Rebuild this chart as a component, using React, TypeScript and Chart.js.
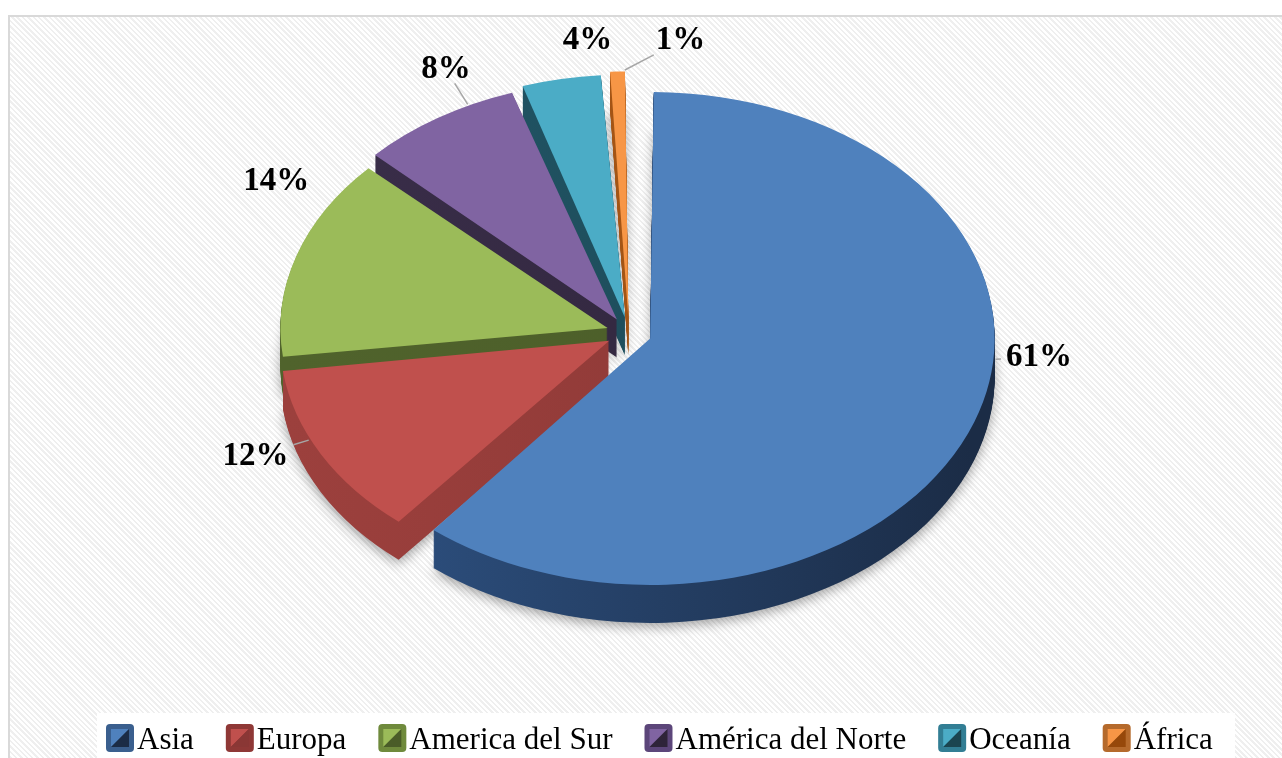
import React, { useEffect, useRef } from "react";
import { Chart, registerables } from "chart.js";

Chart.register(...registerables);

// ---- data ----
const regions = ["Asia", "Europa", "America del Sur", "América del Norte", "Oceanía", "África"];
const shares = [61, 12, 14, 8, 4, 1];

// ---- styles ----
const topColors = ["#4F81BD", "#C0504D", "#9BBB59", "#8064A2", "#4BACC6", "#F79646"];
const sideColorsLeft = ["#2e5283", "#9c403d", "#50632c", "#3a2e4a", "#22586a", "#b0601f"];
const sideColorsRight = ["#1b2c46", "#8a3735", "#4a5c28", "#2e2439", "#1b4550", "#96480a"];
const keyBorderColors = ["#3a5f8e", "#8f3836", "#6f8a3c", "#5c467a", "#327e94", "#b56a2c"];
const labelAngleShift = [-15, 4, 13, 6, 5, 9];
const leaderLines = [true, true, false, true, false, true];

const PIE_RADIUS = 322;
const EXPLODE = 90; // Chart.js moves a slice by offset/4
const TILT = 0.7155;
const DEPTH = 38;
const LABEL_GAP = 67;
const SERIF = '"Liberation Serif", "Times New Roman", serif';

const pie3d = {
  id: "pie3d",
  beforeDatasetsDraw(chart: any) {
    const ctx = chart.ctx as CanvasRenderingContext2D;
    const arcs = chart.getDatasetMeta(0).data;
    chart.$pie3dSaved = false;
    if (!arcs.length) return;
    const cx = arcs[0].x;
    const cy = arcs[0].y;
    ctx.save();
    chart.$pie3dSaved = true;
    ctx.translate(cx, cy);
    ctx.scale(1, TILT);
    ctx.translate(-cx, -cy);
    const fills = arcs.map((_a: any, i: number) => {
      const g = ctx.createLinearGradient(cx - PIE_RADIUS, 0, cx + PIE_RADIUS, 0);
      g.addColorStop(0, sideColorsLeft[i]);
      g.addColorStop(1, sideColorsRight[i]);
      return g;
    });
    for (let d = DEPTH; d >= 1; d--) {
      ctx.save();
      ctx.translate(0, d / TILT);
      if (d === DEPTH) {
        ctx.shadowColor = "rgba(0,0,0,0.35)";
        ctx.shadowBlur = 12;
        ctx.shadowOffsetY = 4;
      }
      arcs.forEach((arc: any, i: number) => {
        const fake = Object.create(arc);
        fake.options = { ...arc.options, backgroundColor: fills[i], borderWidth: 0 };
        fake.draw(ctx);
      });
      ctx.restore();
    }
  },
  afterDatasetsDraw(chart: any) {
    if (chart.$pie3dSaved) chart.ctx.restore();
    chart.$pie3dSaved = false;
  },
};

const legendPlugin = {
  id: "legend3d",
  afterDraw(chart: any) {
    const ctx = chart.ctx as CanvasRenderingContext2D;
    const labels: string[] = chart.data.labels;
    ctx.save();
    // white legend panel
    ctx.fillStyle = "#ffffff";
    ctx.fillRect(87, 696, 1138, 60);
    ctx.font = `31px ${SERIF}`;
    ctx.textBaseline = "alphabetic";
    ctx.textAlign = "left";
    const key = 28;
    const gapText = 3;
    const spacing = 32;
    let x = 96;
    const keyTop = 707;
    labels.forEach((lab, i) => {
      ctx.fillStyle = keyBorderColors[i];
      ctx.beginPath();
      (ctx as any).roundRect(x, keyTop, key, key, 4);
      ctx.fill();
      const ix = x + 5, iy = keyTop + 5, s = key - 10;
      ctx.fillStyle = topColors[i];
      ctx.beginPath();
      ctx.moveTo(ix, iy);
      ctx.lineTo(ix + s, iy);
      ctx.lineTo(ix, iy + s);
      ctx.closePath();
      ctx.fill();
      ctx.fillStyle = sideColorsRight[i];
      ctx.beginPath();
      ctx.moveTo(ix + s, iy);
      ctx.lineTo(ix + s, iy + s);
      ctx.lineTo(ix, iy + s);
      ctx.closePath();
      ctx.fill();
      ctx.fillStyle = "#000000";
      const tx = x + key + gapText;
      ctx.fillText(lab, tx, keyTop + 25);
      x = tx + ctx.measureText(lab).width + spacing;
    });
    ctx.restore();
  },
};

const labelsPlugin = {
  id: "pieLabels",
  afterDraw(chart: any) {
    const ctx = chart.ctx as CanvasRenderingContext2D;
    const arcs = chart.getDatasetMeta(0).data;
    const values: number[] = chart.data.datasets[0].data;
    const total = values.reduce((a, b) => a + b, 0);
    const off = EXPLODE / 4;
    ctx.save();
    ctx.font = `bold 33px ${SERIF}`;
    ctx.textAlign = "center";
    ctx.textBaseline = "middle";
    arcs.forEach((arc: any, i: number) => {
      const { x, y, startAngle, endAngle, outerRadius } = arc;
      const mid = (startAngle + endAngle) / 2;
      const la = mid + (labelAngleShift[i] * Math.PI) / 180;
      const rl = outerRadius + off + LABEL_GAP;
      const lx = x + Math.cos(la) * rl;
      const ly = y + Math.sin(la) * rl * TILT;
      const text = Math.round((values[i] / total) * 100) + "%";
      if (leaderLines[i]) {
        const ra = Math.min(Math.max(la, startAngle + 0.01), endAngle - 0.01);
        const sx = x + Math.cos(mid) * off;
        const sy = y + Math.sin(mid) * off * TILT;
        const fix = 1 - Math.sin(Math.min(Math.PI, endAngle - startAngle));
        const rr = outerRadius + off * fix + 2;
        const px = sx + Math.cos(ra) * rr;
        const py = sy + Math.sin(ra) * rr * TILT;
        const w = ctx.measureText(text).width;
        const hw = w / 2 + 5;
        const hh = 14;
        const dx = px - lx;
        const dy = py - ly;
        const t = Math.min(dx ? hw / Math.abs(dx) : Infinity, dy ? hh / Math.abs(dy) : Infinity);
        if (t < 1) {
          ctx.strokeStyle = "#a6a6a6";
          ctx.lineWidth = 1.5;
          ctx.beginPath();
          ctx.moveTo(lx + dx * t, ly + dy * t);
          ctx.lineTo(px, py);
          ctx.stroke();
        }
      }
      ctx.fillStyle = "#000000";
      ctx.fillText(text, lx, ly);
    });
    ctx.restore();
  },
};

export default function App() {
  const ref = useRef<HTMLCanvasElement>(null);
  useEffect(() => {
    const chart = new Chart(ref.current as HTMLCanvasElement, {
      type: "pie",
      data: {
        labels: regions,
        datasets: [
          {
            data: shares,
            backgroundColor: topColors,
            borderWidth: 0,
            offset: EXPLODE,
            hoverOffset: 0,
            radius: PIE_RADIUS,
            clip: false,
          } as any,
        ],
      },
      options: {
        responsive: false,
        animation: false,
        events: [],
        layout: { padding: { left: 0, right: 34, top: 0, bottom: 109 } },
        plugins: { legend: { display: false }, tooltip: { enabled: false } },
      } as any,
      plugins: [pie3d, legendPlugin, labelsPlugin],
    });
    return () => chart.destroy();
  }, []);
  return (
    <div
      style={{
        position: "absolute",
        left: 8,
        top: 15,
        width: 1290,
        height: 760,
        borderTop: "2px solid #d9d9d9",
        borderLeft: "2px solid #d9d9d9",
        background:
          "repeating-linear-gradient(45deg, #ffffff 0px, #ffffff 2px, #efefef 2px, #efefef 3.8px)",
      }}
    >
      <style>{`html,body{overflow:hidden}`}</style>
      <canvas ref={ref} width={1272} height={741} style={{ display: "block" }} />
    </div>
  );
}
